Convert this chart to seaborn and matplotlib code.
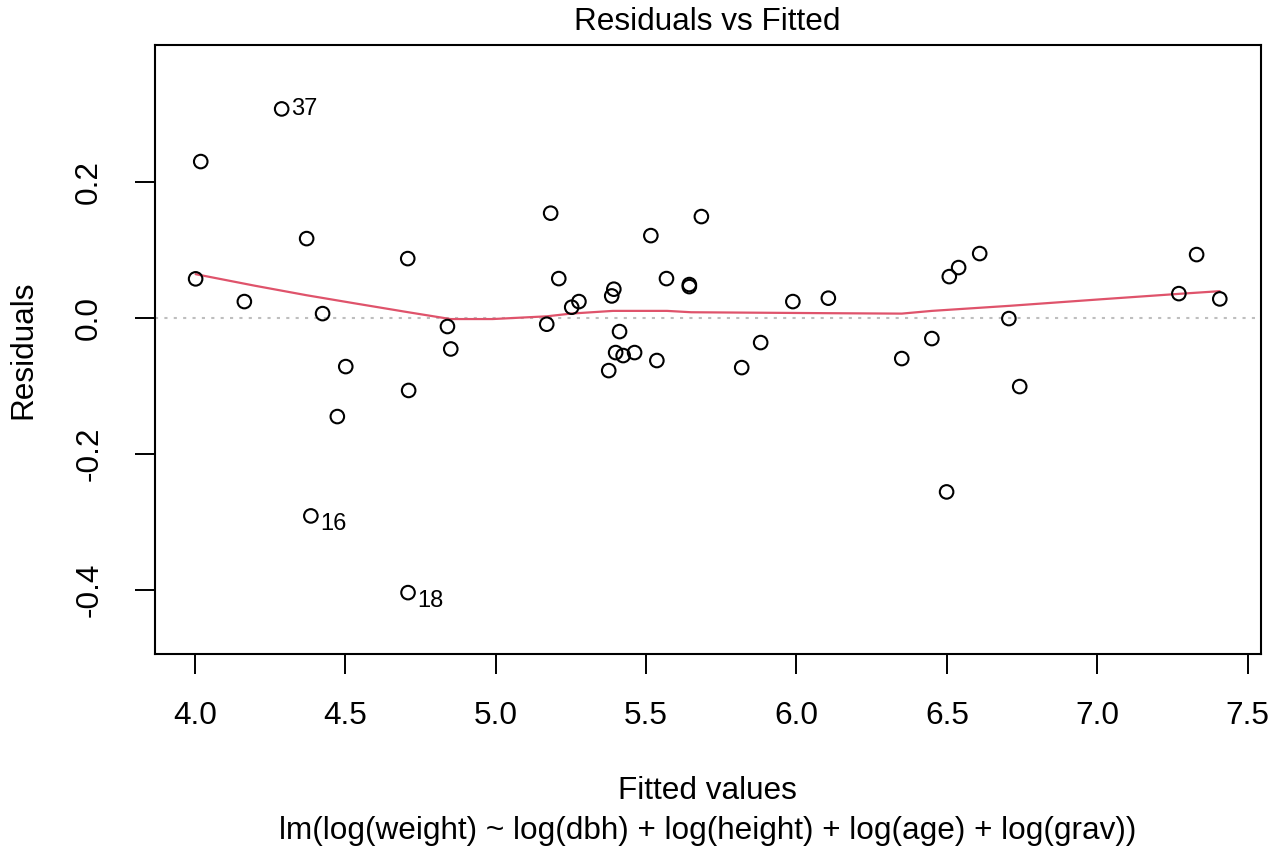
import matplotlib
matplotlib.use("Agg")
import matplotlib.pyplot as plt
import seaborn as sns
import pandas as pd

fitted = [4.289, 4.020, 4.372, 4.708, 4.003, 4.165, 4.425, 4.840, 4.851, 5.183,
          5.170, 4.502, 4.711, 4.474, 4.386, 4.709, 5.684, 5.516, 5.210, 5.568,
          5.644, 5.644, 5.988, 6.106, 5.393, 5.386, 5.277, 5.253, 5.412, 5.399,
          5.424, 5.462, 5.536, 5.376, 5.818, 5.881, 6.609, 6.539, 6.508, 7.330,
          7.271, 7.407, 6.706, 6.450, 6.350, 6.742, 6.499]
residuals = [0.307, 0.2296, 0.1163, 0.0869, 0.0571, 0.0237, 0.0060, -0.0130, -0.0460, 0.1537,
             -0.0096, -0.0719, -0.1070, -0.1454, -0.2915, -0.4043, 0.1487, 0.1207, 0.0575, 0.0575,
             0.0487, 0.0457, 0.0237, 0.0287, 0.0419, 0.0320, 0.0237, 0.0154, -0.0204, -0.0513,
             -0.0557, -0.0513, -0.0630, -0.0778, -0.0734, -0.0366, 0.0943, 0.0737, 0.0604, 0.0928,
             0.0354, 0.0276, -0.0013, -0.0307, -0.0601, -0.1013, -0.2562]
point_ids = [37, None, None, None, None, None, None, None, None, None,
             None, None, None, None, 16, 18, None, None, None, None,
             None, None, None, None, None, None, None, None, None, None,
             None, None, None, None, None, None, None, None, None, None,
             None, None, None, None, None, None, None]

smooth_x = [4.003, 4.200, 4.372, 4.533, 4.710, 4.850, 4.990, 5.170, 5.250, 5.390,
            5.570, 5.650, 6.110, 6.350, 6.450, 6.710, 7.010, 7.270, 7.407]
smooth_y = [0.064, 0.047, 0.033, 0.021, 0.008, -0.002, -0.002, 0.002, 0.006, 0.010,
            0.010, 0.008, 0.0066, 0.006, 0.010, 0.0175, 0.027, 0.035, 0.039]

x_ticks = [4.0, 4.5, 5.0, 5.5, 6.0, 6.5, 7.0, 7.5]
y_ticks = [-0.4, -0.2, 0.0, 0.2]

title = "Residuals vs Fitted"
xlabel = "Fitted values"
ylabel = "Residuals"
subtitle = "lm(log(weight) ~ log(dbh) + log(height) + log(age) + log(grav))"

sns.set_style("white")
plt.rcParams['font.family'] = ['Liberation Sans', 'DejaVu Sans']
plt.rcParams['text.color'] = 'black'
plt.rcParams['axes.labelcolor'] = 'black'
plt.rcParams['xtick.color'] = 'black'
plt.rcParams['ytick.color'] = 'black'

FS = 22.7
W, H = 1277, 849
fig = plt.figure(figsize=(W / 100, H / 100), dpi=100)
left, right, top, bottom = 154.7, 1260.7, 45, 654.3
ax = fig.add_axes([left / W, 1 - bottom / H, (right - left) / W, (bottom - top) / H])

df = pd.DataFrame({"fitted": fitted, "residuals": residuals})
sm = pd.DataFrame({"x": smooth_x, "y": smooth_y})

ax.axhline(0, color="#BEBEBE", lw=1.5, linestyle=(0, (1.5, 3)), zorder=1)
sns.lineplot(data=sm, x="x", y="y", ax=ax, color="#DF536B", lw=1.6,
             estimator=None, sort=False, zorder=2)
sns.scatterplot(data=df, x="fitted", y="residuals", ax=ax, marker="o", s=95,
                facecolors="none", edgecolor="black", linewidth=1.5, zorder=3)

for xv, yv, lab in zip(fitted, residuals, point_ids):
    if lab is None:
        continue
    dy = 0 if yv > 0 else -0.012
    ax.annotate(str(lab), (xv, yv + dy), xytext=(6.5, 0), textcoords="offset points",
                ha="left", va="center", fontsize=17, color="black")

ax.set_xlim(3.867, 7.543)
ax.set_ylim(-0.495, 0.401)
ax.set_xticks(x_ticks)
ax.set_xticklabels([f"{v:.1f}" for v in x_ticks])
ax.set_yticks(y_ticks)
ax.set_yticklabels([f"{v:.1f}" for v in y_ticks], rotation=90, va="center")
ax.tick_params(axis="both", direction="out", length=14.4, width=1.4, labelsize=FS,
               color="black", labelcolor="black", bottom=True, left=True)
ax.tick_params(axis="x", pad=19)
ax.tick_params(axis="y", pad=22)
for sp in ax.spines.values():
    sp.set_visible(True)
    sp.set_color("black")
    sp.set_linewidth(1.5)
ax.set_xlabel("")
ax.set_ylabel("")

cx = ((left + right) / 2) / W
fig.text(cx, 1 - 22 / H, title, ha="center", va="center", fontsize=FS, color="black")
fig.text(cx, 1 - 791 / H, xlabel, ha="center", va="center", fontsize=FS, color="black")
fig.text(cx, 1 - 831 / H, subtitle, ha="center", va="center", fontsize=FS, color="black")
fig.text(23 / W, 1 - ((top + bottom) / 2) / H, ylabel, ha="center", va="center",
         rotation=90, fontsize=FS, color="black")

fig.savefig("out.png", dpi=100)
